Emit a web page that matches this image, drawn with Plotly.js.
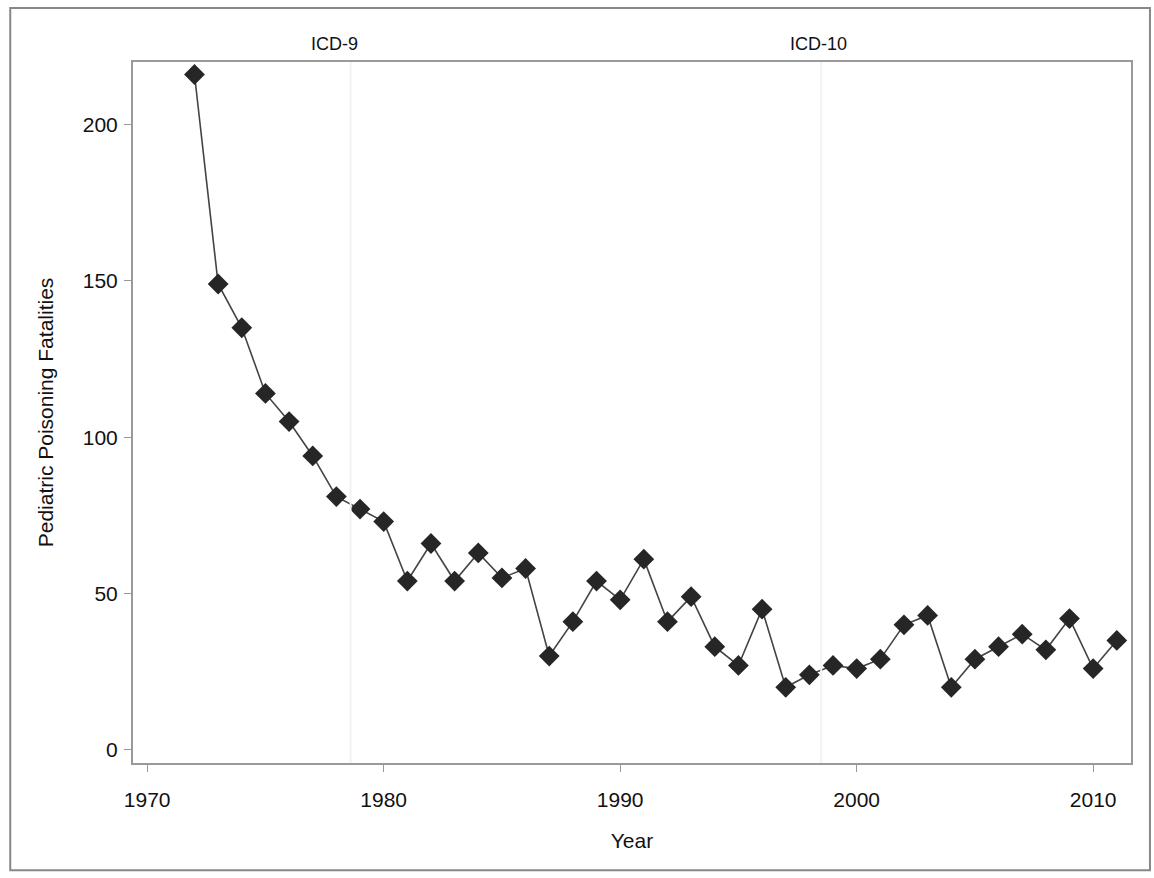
<!DOCTYPE html>
<html><head><meta charset="utf-8">
<script src="https://cdn.plot.ly/plotly-3.0.1.min.js"></script>
<style>html,body{margin:0;padding:0;background:#fff}#chart{width:1154px;height:878px}</style>
</head><body><div id="chart"></div>
<script>
var years = [1972,1973,1974,1975,1976,1977,1978,1979,1980,1981,1982,1983,1984,1985,1986,1987,1988,1989,1990,1991,1992,1993,1994,1995,1996,1997,1998,1999,2000,2001,2002,2003,2004,2005,2006,2007,2008,2009,2010,2011];
var fatalities = [216,149,135,114,105,94,81,77,73,54,66,54,63,55,58,30,41,54,48,61,41,49,33,27,45,20,24,27,26,29,40,43,20,29,33,37,32,42,26,35];
var xTicks = [1970,1980,1990,2000,2010];
var yTicks = [0,50,100,150,200];
var periodLabels = ["ICD-9","ICD-10"];
var periodLabelX = [1977.9,1998.4];
var boundaryYears = [1978.6,1998.5];

var font = {family:"Liberation Sans, Arial, sans-serif", size:21, color:"#111"};
var shapes = boundaryYears.map(function(b){
  return {type:"line", xref:"x", yref:"paper", x0:b, x1:b, y0:0, y1:1, line:{color:"#f2f2f2", width:2}};
});
shapes.push({type:"rect", xref:"paper", yref:"paper", x0:-0.123, x1:1.019, y0:-0.153, y1:1.077, line:{color:"#888", width:2}, fillcolor:"rgba(0,0,0,0)"});

var trace = {x:years, y:fatalities, type:"scatter", mode:"lines+markers",
  line:{color:"#444", width:1.6},
  marker:{symbol:"diamond", size:16, color:"#262626", line:{width:0}}};

var layout = {
  width:1154, height:878,
  margin:{l:133, r:23, t:62, b:115},
  paper_bgcolor:"#fff", plot_bgcolor:"#fff",
  font:font, showlegend:false,
  xaxis:{range:[1969.4,2011.6], tickvals:xTicks, ticktext:xTicks.map(String),
    ticks:"outside", ticklen:7, tickcolor:"#999", showgrid:false, zeroline:false,
    showline:true, linecolor:"#999", linewidth:2, mirror:true, ticklabelstandoff:10,
    tickfont:font, title:{text:"Year", font:font, standoff:23}},
  yaxis:{range:[-4.2,220], tickvals:yTicks, ticktext:yTicks.map(String),
    ticks:"outside", ticklen:7, tickcolor:"#999", showgrid:false, zeroline:false,
    showline:true, linecolor:"#999", linewidth:2, mirror:true, ticklabelstandoff:2,
    tickfont:font, title:{text:"Pediatric Poisoning Fatalities", font:font, standoff:23}},
  shapes:shapes,
  annotations: periodLabels.map(function(t,i){
    return {text:t, x:periodLabelX[i], xref:"x", y:1.025, yref:"paper", showarrow:false,
      yanchor:"middle", font:{family:font.family, size:18, color:"#111"}};
  })
};
Plotly.newPlot("chart",[trace],layout,{displayModeBar:false, staticPlot:true});
</script></body></html>
